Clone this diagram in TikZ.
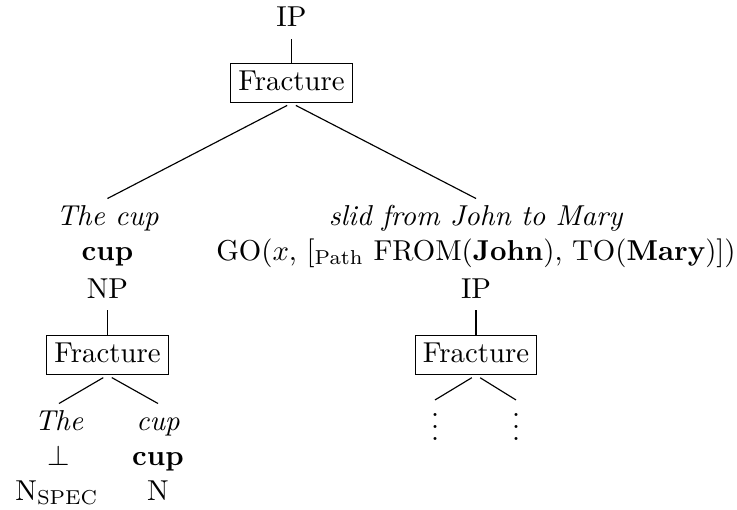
\documentclass[tikz,border=0pt]{standalone}
\usepackage{tikz}

\begin{document}
\begin{tikzpicture}[x=0.3472pt, y=-0.3472pt,
    word/.style={anchor=base, inner sep=2pt, text height=7pt, text depth=2pt},
    fracbox/.style={draw, inner xsep=2.6pt, inner ysep=2.3pt, text height=7pt, text depth=2pt},
    etc/.style={anchor=base, inner sep=2pt, text height=11.7pt, text depth=0pt},
    branch/.style={shorten <=1.7pt}]
        \useasboundingbox (0,0) rectangle (737,510);
        % Nodes
        \node[word] (ip) at (291.5,27) {IP};
        \node[fracbox] (fr) at (291.5,83) {Fracture};
        % left daughter
        \node[word] (thecup) at (107.5,225) {\textit{The cup}};
        \node[word] (cupsem) at (107.5,260) {\textbf{cup}};
        \node[word] (np) at (107.5,298) {NP};
        \node[fracbox] (frl) at (107.5,355) {Fracture};
        \node[word] (the) at (59,430) {\textit{The}};
        \node[word] (bot) at (59,465) {$\bot$};
        \node[word] (nspec) at (57,500) {N$_{\mathrm{SPEC}}$};
        \node[word] (cup) at (158,430) {\textit{cup}};
        \node[word] (cupb) at (158,465) {\textbf{cup}};
        \node[word] (n) at (158,500) {N};
        % right daughter
        \node[word] (slid) at (476,225) {\textit{slid from John to Mary}};
        \node[word] (go) at (476,260) {GO($x$, $[_{\mathrm{Path}}$ FROM(\textbf{John}), TO(\textbf{Mary})$]$)};
        \node[word] (ipr) at (476,298) {IP};
        \node[fracbox] (frr) at (476,355) {Fracture};
        \node[etc] (dl) at (435,440) {$\vdots$};
        \node[etc] (dr) at (516,440) {$\vdots$};
        % Edges
        \draw (ip) -- (fr);
        \draw[branch] (fr.south) -- (thecup.north);
        \draw[branch] (fr.south) -- (slid.north);
        \draw (np) -- (frl);
        \draw[branch] (frl.south) -- (the.north);
        \draw[branch] (frl.south) -- (cup.north);
        \draw (ipr) -- (frr);
        \draw[branch] (frr.south) -- (dl.north);
        \draw[branch] (frr.south) -- (dr.north);
    \end{tikzpicture}
\end{document}
